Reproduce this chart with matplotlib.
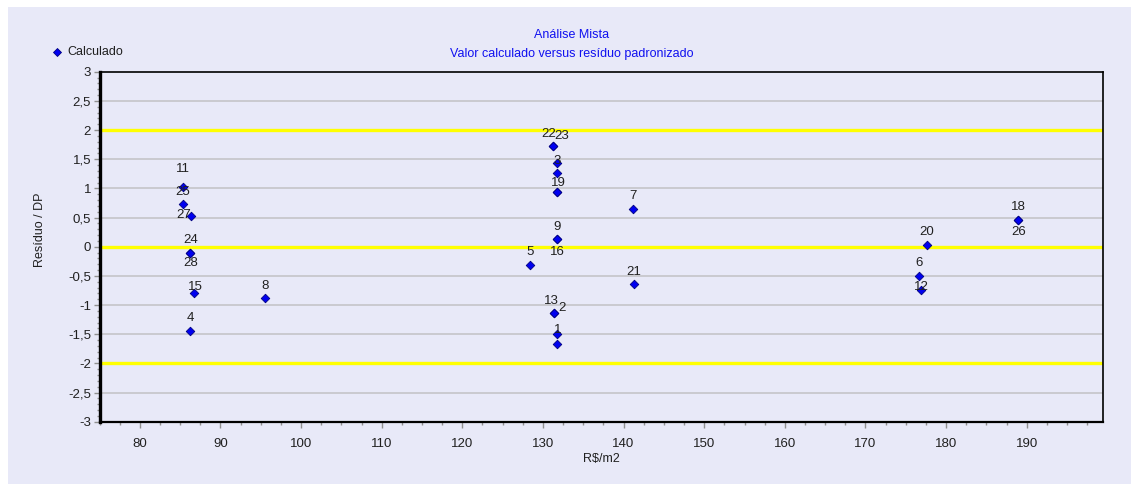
import matplotlib
matplotlib.use("Agg")
import matplotlib.pyplot as plt
from matplotlib.ticker import FuncFormatter, MultipleLocator
from matplotlib.patches import Rectangle

plt.rcParams['font.family'] = ['Liberation Sans', 'DejaVu Sans']

# data: sample id, calculated value (R$/m2), standardized residual
point_ids = list(range(1, 29))
calc_values = [131.79, 131.42, 131.79, 86.25, 128.41, 176.68, 141.14, 95.55,
               131.79, 131.79, 85.38, 176.85, 131.42, 131.79, 86.66, 131.79,
               131.79, 188.95, 131.79, 177.60, 141.30, 131.30, 131.30, 86.25,
               85.34, 188.95, 86.34, 86.25]
residuals = [-1.67, -1.14, 1.26, -1.44, -0.31, -0.50, 0.65, -0.88,
             0.13, 1.43, 1.02, -0.74, -1.14, -1.50, -0.79, 0.13,
             0.94, 0.46, 0.94, 0.03, -0.64, 1.73, 1.73, -0.10,
             0.73, 0.46, 0.53, -0.10]
limit_lines = [2, 0, -2]

# label offsets in pixels (dx, dy; dy negative = above the point), None = hidden
default_offset = (0, -12.5)
label_offsets = {
    11: (0, -18.5), 27: (-7, -1), 28: (0, 10.6), 15: (2, -6),
    22: (-5, -11.7), 23: (8, -9.7), 19: (1, -8.4), 16: (0, 12.4),
    13: (-3, -12), 2: (8, -5), 1: (0, -14.3), 12: (1, -2.7), 26: (0, 11.7),
    10: None, 14: None, 17: None,
}

bg = '#E8E9F8'
W, H = 1131, 484
fig = plt.figure(figsize=(W / 100, H / 100), dpi=100)
fig.patch.set_facecolor('white')
fig.patches.append(Rectangle((8 / W, 0), 1 - 8 / W, 1 - 7 / H, transform=fig.transFigure,
                             facecolor=bg, edgecolor='none', zorder=-10))

ax = fig.add_axes([99.5 / W, 1 - 421.7 / H, (1103.3 - 99.5) / W, (421.7 - 71.7) / H])
ax.set_zorder(1)
ax.set_facecolor(bg)
ax.set_xlim(75, 199.5)
ax.set_ylim(-3, 3)

ax.xaxis.set_major_locator(MultipleLocator(10))
ax.xaxis.set_minor_locator(MultipleLocator(2.5))
ax.yaxis.set_major_locator(MultipleLocator(0.5))
ax.yaxis.set_minor_locator(MultipleLocator(0.1))
ax.xaxis.set_major_formatter(FuncFormatter(lambda v, p: f"{v:g}"))
ax.yaxis.set_major_formatter(FuncFormatter(lambda v, p: f"{v:g}".replace('.', ',').replace('\u2212', '-')))
ax.tick_params(axis='both', which='major', length=4, width=1, color='#909090',
               labelsize=9.5, labelcolor='#202020', pad=2)
ax.tick_params(axis='both', which='minor', length=2.5, width=1, color='#909090')
ax.tick_params(axis='x', which='major', pad=8)

for yv in [-2.5, -1.5, -1, -0.5, 0.5, 1, 1.5, 2.5]:
    ax.axhline(yv, color='#C4C4C8', lw=1.2, zorder=1)
for yv in limit_lines:
    ax.axhline(yv, color='#FFFF00', lw=2.4, zorder=2)

ax.spines['left'].set_linewidth(2.4)
ax.spines['bottom'].set_linewidth(1.6)
ax.spines['top'].set_linewidth(1.2)
ax.spines['right'].set_linewidth(1.2)
for s in ax.spines.values():
    s.set_color('black')

ax.scatter(calc_values, residuals, marker='D', s=19, color='#0000F0',
           edgecolors='#000080', linewidths=0.6, zorder=4)

for pid, xv, yv in zip(point_ids, calc_values, residuals):
    off = label_offsets.get(pid, default_offset)
    if off is None:
        continue
    ax.annotate(str(pid), (xv, yv), xytext=(off[0], -off[1]), textcoords='offset pixels',
                ha='center', va='center', fontsize=9.5, color='#202020', zorder=5)

# titles and labels
fig.text(571.7 / W, 1 - 35 / H, 'Análise Mista', ha='center', va='center',
         fontsize=9, color='#1010F0')
fig.text(571.7 / W, 1 - 54 / H, 'Valor calculado versus resíduo padronizado', ha='center',
         va='center', fontsize=9, color='#1010F0')
fig.text(40 / W, 1 - 230 / H, 'Resíduo / DP', rotation=90, ha='center', va='center',
         fontsize=9, color='#202020')
fig.text(601.5 / W, 1 - 459 / H, 'R$/m2', ha='center', va='center', fontsize=9,
         color='#202020')

# legend
fig.lines.append(plt.Line2D([57 / W], [1 - 52 / H], transform=fig.transFigure, marker='D',
                            markersize=4, color='#0000F0', markeredgecolor='#000080',
                            markeredgewidth=0.6, linestyle='none'))
fig.text(67 / W, 1 - 52 / H, 'Calculado', ha='left', va='center', fontsize=9, color='#202020')

fig.savefig('out.png', dpi=100, facecolor=fig.get_facecolor())
